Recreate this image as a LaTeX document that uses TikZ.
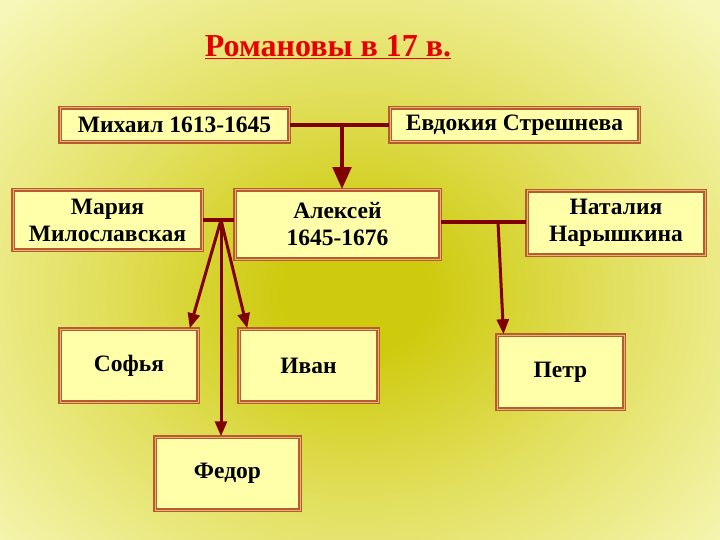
\documentclass[tikz,border=0pt]{standalone}
\usepackage{fontspec}
\setmainfont{Liberation Serif}
\usetikzlibrary{arrows.meta}
\definecolor{bgcenter}{RGB}{206,202,14}
\definecolor{bgmid}{RGB}{226,224,96}
\definecolor{bgouter}{RGB}{247,247,184}
\definecolor{boxfill}{RGB}{255,255,170}
\definecolor{boxline}{RGB}{184,92,48}
\definecolor{linkred}{RGB}{128,0,0}
\definecolor{titlered}{RGB}{230,0,0}
\pgfdeclareradialshading{bgglow}{\pgfpoint{0bp}{0bp}}{color(0bp)=(bgcenter); color(5bp)=(bgcenter); color(18bp)=(bgmid); color(34bp)=(bgouter); color(50bp)=(bgouter)}
\begin{document}
\begin{tikzpicture}[x=1pt,y=-1pt,
		person/.style={draw=boxline,double=boxline!45!boxfill,double distance=1pt,line width=1.5pt,
			fill=boxfill,align=center,inner sep=2pt,font=\fontsize{23.5}{27}\selectfont\bfseries},
		marriage/.style={linkred,line width=4.5pt},
		descent/.style={linkred,line width=3pt,-{Triangle[length=15pt,width=12pt]}},
		maindescent/.style={linkred,line width=4.5pt,-{Triangle[length=22pt,width=18pt]}}]
	\useasboundingbox (0,0) rectangle (720,540);
	\fill[bgouter] (0,0) rectangle (720,540);
	\shade[shading=bgglow] (-10,0) rectangle (720,590); % background
	
	\node at (328,47) {\fontsize{32}{36}\selectfont\bfseries\color{titlered}\underline{Романовы в 17 в.}};
	
	% parents
	\node[person,minimum width=229pt,minimum height=34pt] (Mikhail) at (174.5,125) {Михаил 1613-1645};
	\node[person,minimum width=249pt,minimum height=34pt] (Evdokiya) at (514.5,125) {Евдокия Стрешнева};
	% Aleksey and his wives
	\node[person,minimum width=189pt,minimum height=60pt] (Mariya) at (107.5,220) {Мария\\Милославская};
	\node[person,minimum width=205pt,minimum height=69pt] (Aleksey) at (337.5,224.5) {Алексей\\1645-1676};
	\node[person,minimum width=178pt,minimum height=64pt] (Nataliya) at (616,223) {Наталия\\Нарышкина};
	% children
	\node[person,minimum width=138pt,minimum height=73pt] (Sofya) at (129,365.5) {Софья};
	\node[person,minimum width=139pt,minimum height=73pt] (Ivan) at (308.5,365.5) {Иван};
	\node[person,minimum width=145pt,minimum height=73pt] (Fedor) at (227.5,473.5) {Федор};
	\node[person,minimum width=127pt,minimum height=74pt] (Petr) at (560.5,372) {Петр};
	
	\coordinate (JoinTop) at (342,125);
	\coordinate (JoinLeft) at (221,220);
	\coordinate (JoinRight) at (498,222);
	
	\draw[marriage] (Mikhail.east) -- (Evdokiya.west);
	\draw[maindescent] (JoinTop) -- (JoinTop |- Aleksey.north);
	\draw[marriage] (Mariya.east) -- (Mariya.east -| Aleksey.west);
	\draw[marriage] (Aleksey.east |- JoinRight) -- (Nataliya.west |- JoinRight);
	
	\draw[descent] (JoinLeft) -- ([xshift=-9pt]Sofya.north east);
	\draw[descent] (JoinLeft) -- ([xshift=9pt]Ivan.north west);
	\draw[descent] (JoinLeft) -- (JoinLeft |- Fedor.north);
	\draw[descent] (JoinRight) -- ([xshift=-57pt]Petr.north);
\end{tikzpicture}
\end{document}
